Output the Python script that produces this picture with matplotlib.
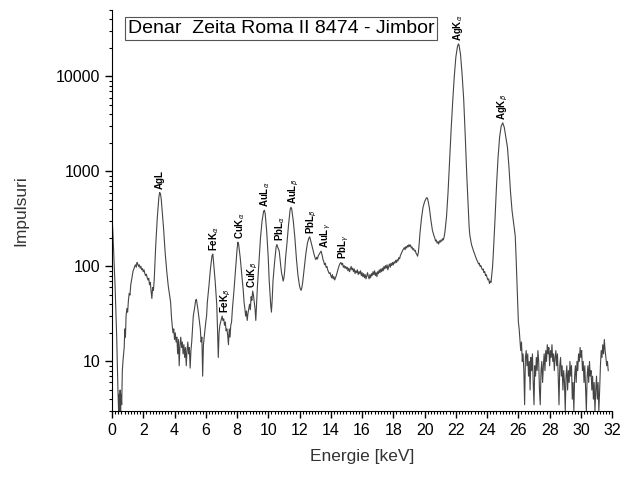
import numpy as np
import matplotlib
matplotlib.use('Agg')
import matplotlib.pyplot as plt
from matplotlib.ticker import MultipleLocator, LogLocator, NullFormatter

plt.rcParams['font.family'] = ['Liberation Sans', 'DejaVu Sans']

# spectrum (energy in keV, counts)
energy_kev = [
    0.0, 0.05, 0.1, 0.2, 0.3, 0.38, 0.42, 0.45, 0.48, 0.52, 0.55, 0.58, 0.62,
    0.66, 0.72, 0.78, 0.82, 0.86, 0.9, 0.95, 1.0, 1.05, 1.1, 1.15, 1.2, 1.25, 1.3, 1.35, 1.4, 1.45,
    1.5, 1.55, 1.6, 1.65, 1.7, 1.75, 1.8, 1.85, 1.9, 1.95, 2.0, 2.05, 2.1, 2.15, 2.2, 2.25, 2.3,
    2.35, 2.4, 2.45, 2.5, 2.55, 2.6, 2.65, 2.7, 2.75, 2.8, 2.85, 2.9, 2.95, 3.0, 3.05, 3.1, 3.15,
    3.2, 3.3, 3.4, 3.5, 3.6, 3.7, 3.75, 3.8, 3.85, 3.9, 3.95, 4.0, 4.05, 4.1, 4.15, 4.2, 4.25, 4.3,
    4.35, 4.4, 4.45, 4.5, 4.55, 4.6, 4.65, 4.7, 4.75, 4.8, 4.85, 4.9, 4.95, 5.0, 5.05, 5.1, 5.15,
    5.2, 5.3, 5.35, 5.4, 5.45, 5.5, 5.55, 5.6, 5.65, 5.7, 5.75, 5.8, 5.85, 5.9, 5.95, 6.0, 6.05,
    6.1, 6.2, 6.3, 6.4, 6.45, 6.5, 6.6, 6.7, 6.75, 6.8, 6.85, 6.9, 6.95, 7.0, 7.05, 7.1, 7.15, 7.2,
    7.25, 7.3, 7.35, 7.4, 7.45, 7.5, 7.55, 7.6, 7.65, 7.7, 7.8, 7.9, 8.0, 8.05, 8.1, 8.2, 8.3, 8.4,
    8.45, 8.5, 8.55, 8.6, 8.65, 8.7, 8.75, 8.8, 8.85, 8.9, 8.95, 9.0, 9.05, 9.1, 9.15, 9.2, 9.25,
    9.3, 9.4, 9.5, 9.6, 9.7, 9.75, 9.8, 9.9, 10.0, 10.05, 10.1, 10.15, 10.2, 10.25, 10.3, 10.4,
    10.5, 10.55, 10.6, 10.7, 10.75, 10.8, 10.85, 10.9, 10.95, 11.0, 11.05, 11.1, 11.2, 11.3, 11.4,
    11.45, 11.5, 11.6, 11.7, 11.8, 11.9, 12.0, 12.05, 12.1, 12.15, 12.2, 12.3, 12.4, 12.5, 12.6,
    12.65, 12.7, 12.8, 12.85, 12.9, 12.95, 13.0, 13.05, 13.1, 13.15, 13.2, 13.3, 13.38, 13.45,
    13.5, 13.55, 13.6, 13.65, 13.7, 13.75, 13.8, 13.85, 13.9, 13.95, 14.0, 14.05, 14.1, 14.15,
    14.2, 14.25, 14.3, 14.35, 14.4, 14.45, 14.5, 14.55, 14.6, 14.65, 14.7, 14.75, 14.8, 14.85,
    14.9, 14.95, 15.0, 15.05, 15.1, 15.15, 15.2, 15.25, 15.3, 15.35, 15.4, 15.45, 15.5, 15.55,
    15.6, 15.65, 15.7, 15.75, 15.8, 15.85, 15.9, 15.95, 16.0, 16.05, 16.1, 16.15, 16.2, 16.25,
    16.3, 16.35, 16.4, 16.45, 16.5, 16.55, 16.6, 16.65, 16.7, 16.75, 16.8, 16.85, 16.9, 16.95,
    17.0, 17.05, 17.1, 17.15, 17.2, 17.25, 17.3, 17.35, 17.4, 17.45, 17.5, 17.55, 17.6, 17.65,
    17.7, 17.75, 17.8, 17.85, 17.9, 17.95, 18.0, 18.05, 18.1, 18.15, 18.2, 18.25, 18.3, 18.35,
    18.4, 18.45, 18.5, 18.55, 18.6, 18.65, 18.7, 18.75, 18.8, 18.85, 18.9, 18.95, 19.0, 19.05,
    19.1, 19.15, 19.2, 19.25, 19.3, 19.35, 19.4, 19.45, 19.5, 19.55, 19.6, 19.65, 19.7, 19.8,
    19.9, 20.0, 20.1, 20.15, 20.2, 20.3, 20.4, 20.5, 20.6, 20.65, 20.7, 20.75, 20.8, 20.85, 20.9,
    20.95, 21.0, 21.05, 21.1, 21.15, 21.2, 21.25, 21.3, 21.4, 21.5, 21.6, 21.7, 21.8, 21.9, 22.0,
    22.1, 22.16, 22.2, 22.3, 22.4, 22.5, 22.6, 22.7, 22.8, 22.85, 22.9, 23.0, 23.05, 23.1, 23.15,
    23.2, 23.25, 23.3, 23.35, 23.4, 23.45, 23.5, 23.55, 23.6, 23.65, 23.7, 23.75, 23.8, 23.85,
    23.9, 23.95, 24.0, 24.05, 24.1, 24.15, 24.2, 24.25, 24.3, 24.35, 24.4, 24.5, 24.6, 24.7, 24.8,
    24.9, 25.0, 25.1, 25.2, 25.3, 25.4, 25.5, 25.6, 25.7, 25.8, 25.85, 25.9, 25.95, 26.0, 26.05,
    26.1, 26.15, 26.2, 26.25, 26.3, 26.35, 26.4, 26.45, 26.5, 26.55, 26.6, 26.65, 26.7, 26.75,
    26.8, 26.85, 26.9, 26.95, 27.0, 27.05, 27.1, 27.15, 27.2, 27.25, 27.3, 27.35, 27.4, 27.45,
    27.5, 27.55, 27.6, 27.65, 27.7, 27.75, 27.8, 27.85, 27.9, 27.95, 28.0, 28.05, 28.1, 28.15,
    28.2, 28.25, 28.3, 28.35, 28.4, 28.45, 28.5, 28.55, 28.6, 28.65, 28.7, 28.75, 28.8, 28.85,
    28.9, 28.95, 29.0, 29.05, 29.1, 29.15, 29.2, 29.25, 29.3, 29.35, 29.4, 29.45, 29.5, 29.55,
    29.6, 29.65, 29.7, 29.75, 29.8, 29.85, 29.9, 29.95, 30.0, 30.05, 30.1, 30.15, 30.2, 30.25,
    30.3, 30.35, 30.4, 30.45, 30.5, 30.55, 30.6, 30.65, 30.7, 30.75, 30.8, 30.85, 30.9, 30.95,
    31.0, 31.05, 31.1, 31.15, 31.2, 31.25, 31.3, 31.35, 31.4, 31.45, 31.5, 31.55, 31.6, 31.65,
    31.7, 31.75,
]
impulsuri = [
    330, 240, 150, 60, 18, 5, 3, 4.5, 3, 5, 3, 4.5, 3.5,
    8, 11, 14, 22, 18, 30, 36, 33, 44, 52, 50, 64, 72, 80, 90, 94, 100,
    104, 98, 110, 106, 100, 104, 96, 100, 92, 95, 88, 92, 84, 80, 83, 76, 72,
    75, 64, 68, 55, 46, 60, 56, 72, 110, 170, 240, 330, 430, 540, 600, 580, 510,
    400, 250, 140, 90, 62, 48, 42, 30, 24, 20, 22, 17, 20, 16, 18, 12, 17, 9,
    15, 18, 14, 16, 12, 15, 11, 14, 9, 13, 16, 12, 14, 8.5, 13, 16, 22,
    30, 38, 44, 45, 40, 35, 30, 26, 22, 16, 18, 7, 15, 18, 22, 26, 30,
    42, 62, 95, 130, 135, 110, 70, 40, 22, 11, 20, 24, 26, 28, 30, 27, 28, 24,
    26, 21, 22, 19, 15, 22, 18, 24, 26, 35, 55, 90, 150, 180, 172, 125, 82, 55,
    42, 36, 30, 34, 27, 32, 36, 40, 35, 48, 44, 55, 50, 42, 36, 27, 40,
    60, 110, 200, 300, 380, 390, 360, 230, 120, 75, 55, 40, 33, 45, 70, 110,
    160, 170, 160, 145, 120, 100, 85, 78, 70, 76, 90, 120, 180, 280, 400,
    420, 400, 300, 200, 120, 80, 62, 58, 56, 60, 68, 95, 135, 175, 200,
    205, 190, 165, 150, 140, 130, 122, 118, 125, 120, 130, 138, 145, 130,
    118, 112, 104, 108, 98, 100, 92, 88, 84, 86, 80, 76, 82, 74,
    78, 72, 76, 80, 86, 92, 98, 104, 108, 110, 104, 108, 98, 102,
    96, 100, 94, 98, 90, 96, 88, 94, 100, 92, 96, 88, 94, 84,
    90, 86, 92, 82, 88, 84, 90, 80, 86, 78, 84, 76, 82, 74,
    80, 86, 78, 74, 82, 76, 84, 80, 88, 82, 90, 80, 86, 78,
    88, 84, 92, 86, 94, 88, 96, 90, 100, 94, 102, 96, 104, 92,
    100, 106, 98, 108, 102, 110, 104, 112, 108, 116, 110, 118, 114, 124,
    120, 130, 136, 142, 148, 152, 158, 150, 162, 156, 166, 160, 170, 162,
    168, 156, 160, 150, 154, 145, 148, 138, 134, 128, 140, 170, 220, 320,
    420, 480, 520, 530, 510, 420, 310, 240, 210, 200, 185, 190, 176, 182, 172,
    186, 180, 190, 184, 196, 190, 205, 230, 330, 600, 1300, 2800, 5500, 10000, 16000,
    20500, 22000, 21500, 17000, 10500, 5800, 2400, 900, 380, 260, 210, 170, 160, 150, 142,
    136, 128, 122, 116, 112, 106, 108, 100, 102, 96, 92, 94, 86, 88,
    80, 82, 76, 72, 74, 66, 70, 68, 82, 100, 140, 300, 700, 1400, 2300,
    3000, 3250, 2900, 2300, 1800, 1100, 600, 380, 280, 210, 130, 75, 45, 26, 22,
    17, 13, 16, 10, 12, 8, 3.5, 11, 13, 9, 12, 7, 10, 5,
    11, 8, 12, 6, 3.5, 9, 7, 11, 8, 13, 10, 5, 3.5, 8,
    10, 6, 9, 12, 8, 13, 10, 15, 12, 14, 9, 13, 11, 15,
    10, 12, 8, 11, 13, 9, 12, 7, 3.5, 9, 11, 7, 9, 5,
    8, 6, 3, 7, 9, 5, 8, 6, 10, 7, 9, 4, 6, 3,
    7, 9, 6, 10, 8, 12, 10, 14, 11, 13, 8, 10, 6, 9,
    5, 3, 7, 9, 6, 10, 7, 8, 5, 7, 4, 6, 3, 5,
    7, 4, 6, 3, 5, 9, 13, 11, 15, 12, 17, 13, 11, 9,
    10, 8,
]

peak_names = [r'AgL', r'FeK$_\alpha$', r'FeK$_\beta$', r'CuK$_\alpha$', r'CuK$_\beta$',
              r'AuL$_\alpha$', r'PbL$_\alpha$', r'AuL$_\beta$', r'PbL$_\beta$', r'AuL$_\gamma$',
              r'PbL$_\gamma$', r'AgK$_\alpha$', r'AgK$_\beta$']
peak_kev = [3.05, 6.55, 7.3, 8.2, 9.0, 9.8, 10.75, 11.6, 12.8, 13.7, 14.8, 22.15, 25.0]

E = np.array(energy_kev)
C = np.array(impulsuri)

fig = plt.figure(figsize=(6.24, 4.78), dpi=100)
ax = fig.add_axes([0.1795, 0.140, 0.8015, 0.839])
ax.plot(E, C, color='#454545', lw=0.8)

ax.set_yscale('log')
ax.set_xlim(0, 32)
ax.set_ylim(3, 50000)

for name, x in zip(peak_names, peak_kev):
    near = C[(E > x - 0.35) & (E < x + 0.3)]
    ax.text(x, near.max() * 1.08, name, rotation=90, ha='center', va='bottom',
            fontsize=7, fontweight='bold')

ax.text(0.338, 0.955, 'Denar  Zeita Roma II 8474 - Jimbor', transform=ax.transAxes,
        ha='center', va='center', fontsize=14,
        bbox=dict(boxstyle='square,pad=0.15', fc='white', ec='#555555', lw=0.8))

ax.spines['top'].set_visible(False)
ax.spines['right'].set_visible(False)
ax.xaxis.set_major_locator(MultipleLocator(2))
ax.xaxis.set_minor_locator(MultipleLocator(0.2))
ax.yaxis.set_major_locator(LogLocator(base=10, numticks=10))
ax.yaxis.set_minor_locator(LogLocator(base=10, subs=np.arange(2, 10), numticks=20))
ax.yaxis.set_minor_formatter(NullFormatter())
ax.yaxis.set_major_formatter(plt.FuncFormatter(lambda v, p: '%d' % v))
ax.tick_params(which='major', direction='out', length=5, width=1, labelsize=11.5)
ax.tick_params(which='minor', direction='out', length=2.5, width=0.8)

ax.set_xlabel('Energie [keV]', fontsize=12.5, labelpad=8, color='#333333')
ax.set_ylabel('Impulsuri', fontsize=12.5, labelpad=20, color='#333333')

fig.savefig('out.png', dpi=100)
